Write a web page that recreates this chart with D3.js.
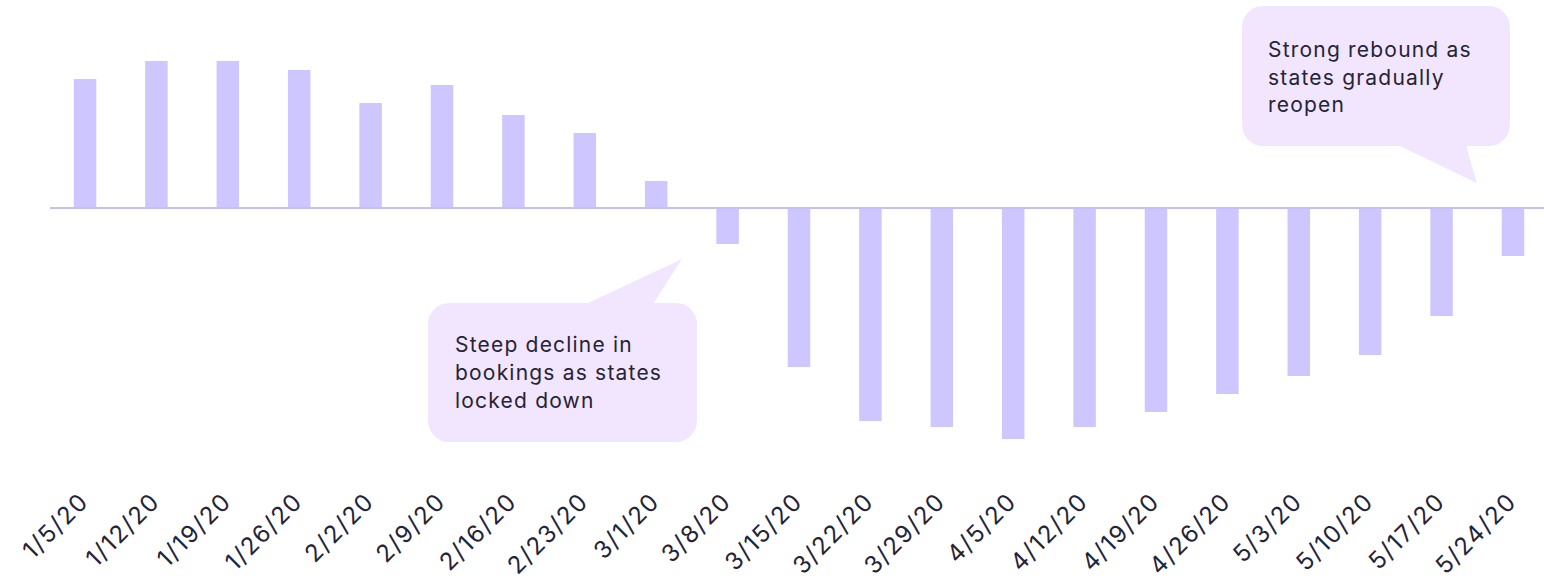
<!DOCTYPE html>
<html>
<head>
<meta charset="utf-8">
<script src="https://cdn.jsdelivr.net/npm/d3@7"></script>
<style>
  html, body { margin: 0; padding: 0; background: #ffffff; }
  svg { display: block; }
  .tick text { font-family: Inter, "Noto Sans", sans-serif; }
</style>
</head>
<body>
<svg id="chart" width="1544" height="583"></svg>
<script>
// Weekly change in bookings (%)
const weeks = ["1/5/20","1/12/20","1/19/20","1/26/20","2/2/20","2/9/20","2/16/20","2/23/20","3/1/20","3/8/20","3/15/20","3/22/20","3/29/20","4/5/20","4/12/20","4/19/20","4/26/20","5/3/20","5/10/20","5/17/20","5/24/20"];
const change = [43, 49, 49, 46, 35, 41, 31, 25, 9, -12, -53, -71, -73, -77, -73, -68, -62, -56, -49, -36, -16];

const notes = [
  { lines: ["Strong rebound as", "states gradually", "reopen"] },
  { lines: ["Steep decline in", "bookings as states", "locked down"] }
];

const W = 1544, H = 583;
const svg = d3.select("#chart");

const x = d3.scaleBand()
  .domain(weeks)
  .range([50, 1548])
  .paddingInner(0.685)
  .paddingOuter(0.333);

const y = d3.scaleLinear()
  .domain([-80, 60])
  .range([448, 28]);

const barColor = "#cec7ff";
const textColor = "#252336";

// bars
svg.append("g")
  .selectAll("rect")
  .data(weeks.map((w, i) => ({ w, v: change[i] })))
  .join("rect")
  .attr("x", d => x(d.w))
  .attr("width", x.bandwidth())
  .attr("y", d => Math.min(y(d.v), y(0)))
  .attr("height", d => Math.abs(y(d.v) - y(0)))
  .attr("fill", barColor);

// zero line
svg.append("line")
  .attr("x1", 50).attr("x2", W)
  .attr("y1", y(0)).attr("y2", y(0))
  .attr("stroke", "#c6bff5")
  .attr("stroke-width", 2);

// date labels
const axis = svg.append("g")
  .attr("transform", "translate(0,503)")
  .call(d3.axisBottom(x).tickSize(0).tickPadding(0));
axis.select(".domain").remove();
axis.selectAll(".tick text")
  .attr("x", 0).attr("y", 0).attr("dy", 0)
  .attr("text-anchor", "end")
  .attr("transform", "translate(5,0) rotate(-45)")
  .attr("font-size", 24)
  .attr("letter-spacing", 1.6)
  .attr("fill", textColor);

// callouts
function bubble(g, bx, by, bw, bh, r, tail) {
  const p = d3.path();
  p.moveTo(bx + r, by);
  p.lineTo(bx + bw - r, by);
  p.arcTo(bx + bw, by, bx + bw, by + r, r);
  p.lineTo(bx + bw, by + bh - r);
  p.arcTo(bx + bw, by + bh, bx + bw - r, by + bh, r);
  p.lineTo(bx + r, by + bh);
  p.arcTo(bx, by + bh, bx, by + bh - r, r);
  p.lineTo(bx, by + r);
  p.arcTo(bx, by, bx + r, by, r);
  p.closePath();
  g.append("path").attr("d", p.toString()).attr("fill", "#f2e6fe");
  g.append("path")
    .attr("d", "M" + tail.map(t => t.join(",")).join("L") + "Z")
    .attr("fill", "#f2e6fe");
}

function noteText(g, lines, tx, ty, lh) {
  g.append("text")
    .attr("font-family", "Inter, 'Noto Sans', sans-serif")
    .attr("font-size", 21)
    .attr("letter-spacing", 1.2)
    .attr("fill", textColor)
    .selectAll("tspan")
    .data(lines)
    .join("tspan")
    .attr("x", tx)
    .attr("y", (d, i) => ty + i * lh)
    .text(d => d);
}

const c1 = svg.append("g");
bubble(c1, 1242, 6, 268, 140, 21,
  [[1398, 145], [x("5/24/20") - 25, 183], [1466, 145]]);
noteText(c1, notes[0].lines, 1268, 57, 27.5);

const c2 = svg.append("g");
bubble(c2, 428, 303, 269, 139, 21,
  [[586, 304], [x("3/1/20") + 37, 259], [653, 304]]);
noteText(c2, notes[1].lines, 455, 352, 28);
</script>
</body>
</html>
